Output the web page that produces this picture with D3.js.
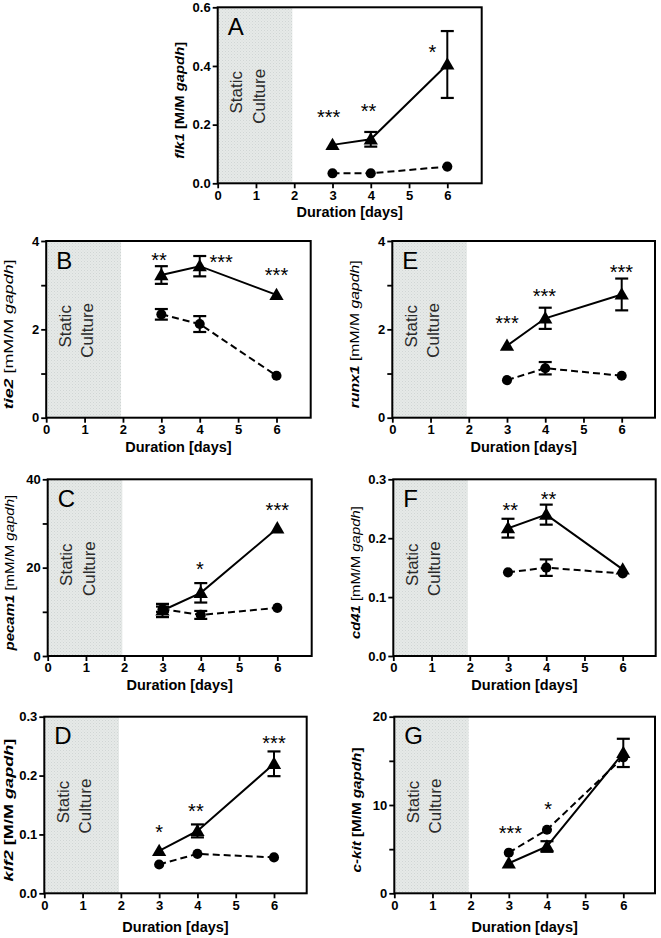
<!DOCTYPE html>
<html><head><meta charset="utf-8">
<script src="https://cdn.jsdelivr.net/npm/d3@7"></script>
<style>
body{margin:0;background:#fff}
svg{display:block}
text{font-family:"Liberation Sans",Arial,Helvetica,sans-serif;fill:#000}
</style>
</head><body>
<svg id="chart" width="661" height="938"></svg>
<script>
// ---------------- DATA ----------------
const days = [3, 4, 6];
const xTickValues = [0, 1, 2, 3, 4, 5, 6];
const xTickLabels = ["0", "1", "2", "3", "4", "5", "6"];
const staticCultureDays = [0, 1.95];
const xTitle = "Duration [days]";

const panelLetters = ["A", "B", "E", "C", "F", "D", "G"];
const geneNames = ["flk1", "tie2", "runx1", "pecam1", "cd41", "klf2", "c-kit"];
const unitNames = ["M/M", "mM/M", "mM/M", "mM/M", "mM/M", "M/M", "M/M"];
const yDomainMax = [0.6, 4, 4, 40, 0.3, 0.3, 20];

const yMajorTicks = [[0, 0.2, 0.4, 0.6], [0, 2, 4], [0, 2, 4], [0, 20, 40], [0, 0.1, 0.2, 0.3], [0, 0.1, 0.2, 0.3], [0, 10, 20]];
const yTickLabels = [["0.0", "0.2", "0.4", "0.6"], ["0", "2", "4"], ["0", "2", "4"], ["0", "20", "40"], ["0.0", "0.1", "0.2", "0.3"], ["0.0", "0.1", "0.2", "0.3"], ["0", "10", "20"]];
const yMinorTicks = [[], [1, 3], [1, 3], [10, 30], [], [], [5, 15]];

// triangle series (solid line)
const triMean = [
  [0.131, 0.150, 0.405],
  [3.23, 3.43, 2.78],
  [1.63, 2.25, 2.79],
  [10.3, 14.3, 28.9],
  [0.217, 0.240, 0.147],
  [0.072, 0.106, 0.220],
  [3.4, 5.3, 15.9]
];
const triErr = [
  [0, 0.025, 0.114],
  [0.20, 0.23, 0],
  [0, 0.24, 0.36],
  [1.5, 2.2, 0],
  [0.016, 0.017, 0],
  [0, 0.011, 0.021],
  [0, 0.6, 1.6]
];
// circle series (dashed line)
const circMean = [
  [0.034, 0.034, 0.057],
  [2.34, 2.12, 0.95],
  [0.85, 1.12, 0.95],
  [10.6, 9.3, 10.9],
  [0.142, 0.150, 0.140],
  [0.049, 0.067, 0.061],
  [4.6, 7.2, 15.4]
];
const circErr = [
  [0, 0, 0],
  [0.12, 0.18, 0],
  [0, 0.14, 0],
  [0.6, 0.9, 0],
  [0, 0.014, 0],
  [0, 0, 0],
  [0, 0, 0]
];
// significance marks: [day, value, label]
const starMarks = [
  [[2.9, 0.239, "***"], [3.94, 0.259, "**"], [5.61, 0.46, "*"]],
  [[2.94, 3.67, "**"], [4.56, 3.61, "***"], [6.0, 3.31, "***"]],
  [[3.0, 2.23, "***"], [3.98, 2.84, "***"], [5.99, 3.38, "***"]],
  [[3.98, 20.6, "*"], [6.0, 34.0, "***"]],
  [[3.06, 0.254, "**"], [4.06, 0.273, "**"]],
  [[3.0, 0.1115, "*"], [3.96, 0.146, "**"], [6.0, 0.2615, "***"]],
  [[3.04, 7.25, "***"], [4.03, 10.0, "*"]]
];

// ---------------- LAYOUT ----------------
const layout = [
  {l: 217.7, x6: 447.3, r: 481.7, t: 7.3, b: 183.3, tl: 117, xt: 34},
  {l: 46.2, x6: 276.5, r: 310.7, t: 241, b: 417.7, tl: 150, xt: 34},
  {l: 392.3, x6: 621.7, r: 655, t: 241, b: 417.7, tl: 148, xt: 34},
  {l: 47.7, x6: 277.3, r: 311.7, t: 479.3, b: 656, tl: 157, xt: 34},
  {l: 393.3, x6: 622.7, r: 655.7, t: 479.3, b: 656, tl: 133, xt: 34},
  {l: 44.3, x6: 274, r: 306.7, t: 716.7, b: 893.3, tl: 143, xt: 39},
  {l: 394.3, x6: 623.3, r: 655, t: 716.7, b: 893.3, tl: 125, xt: 39}
];

const svg = d3.select("#chart");
const defs = svg.append("defs");
const pat = defs.append("pattern").attr("id", "hatch").attr("width", 3).attr("height", 3)
  .attr("patternUnits", "userSpaceOnUse");
pat.append("rect").attr("width", 3).attr("height", 3).attr("fill", "#e6e9e8");
pat.append("rect").attr("width", 1).attr("height", 1).attr("fill", "#d0d6d4");
pat.append("rect").attr("x", 1.5).attr("y", 1.5).attr("width", 1).attr("height", 1).attr("fill", "#d8dddb");

const triSym = d3.symbol().type(d3.symbolTriangle).size(88);
const circSym = d3.symbol().type(d3.symbolCircle).size(80);

layout.forEach((L, i) => {
  const g = svg.append("g");
  const x = d3.scaleLinear().domain([0, 6]).range([L.l, L.x6]);
  const y = d3.scaleLinear().domain([0, yDomainMax[i]]).range([L.b, L.t]);

  // static culture region
  g.append("rect")
    .attr("x", x(staticCultureDays[0])).attr("y", L.t)
    .attr("width", x(staticCultureDays[1]) - x(staticCultureDays[0]))
    .attr("height", L.b - L.t).attr("fill", "url(#hatch)");
  const cy = (L.t + L.b) / 2;
  [["Static", 0.5, -3], ["Culture", 1.08, 1]].forEach(([s, d, off]) => {
    g.append("text").attr("transform", `translate(${x(d)},${cy + off}) rotate(-90)`)
      .attr("text-anchor", "middle").attr("dominant-baseline", "central")
      .attr("font-size", 17).style("fill", "#2a2a2a").text(s);
  });

  // series
  const series = [
    {m: circMean[i], e: circErr[i], sym: circSym, dash: "7,4", dy: 0},
    {m: triMean[i], e: triErr[i], sym: triSym, dash: null, dy: 1}
  ];
  series.forEach(s => {
    const pts = days.map((d, k) => ({d, v: s.m[k], e: s.e[k]}));
    pts.filter(p => p.e > 0).forEach(p => {
      const cx = x(p.d), y1 = y(p.v + p.e), y2 = y(p.v - p.e);
      g.append("line").attr("x1", cx).attr("x2", cx).attr("y1", y1).attr("y2", y2)
        .attr("stroke", "#000").attr("stroke-width", 2);
      [y1, y2].forEach(yy => g.append("line").attr("x1", cx - 6.5).attr("x2", cx + 6.5)
        .attr("y1", yy).attr("y2", yy).attr("stroke", "#000").attr("stroke-width", 2.2));
    });
    g.append("path").datum(pts)
      .attr("d", d3.line().x(p => x(p.d)).y(p => y(p.v)))
      .attr("fill", "none").attr("stroke", "#000").attr("stroke-width", 2)
      .attr("stroke-dasharray", s.dash);
    g.selectAll(null).data(pts).join("path")
      .attr("transform", p => `translate(${x(p.d)},${y(p.v) + s.dy})`)
      .attr("d", s.sym).attr("fill", "#000");
  });

  // frame
  g.append("rect").attr("x", L.l).attr("y", L.t).attr("width", L.r - L.l).attr("height", L.b - L.t)
    .attr("fill", "none").attr("stroke", "#000").attr("stroke-width", 2);

  // axes
  g.append("g").attr("transform", `translate(${L.l},0)`)
    .call(d3.axisLeft(y).tickValues(yMajorTicks[i]).tickSize(5).tickPadding(2)
      .tickFormat((d, k) => yTickLabels[i][k]));
  g.append("g").attr("transform", `translate(${L.l},0)`)
    .call(d3.axisLeft(y).tickValues(yMinorTicks[i]).tickSize(5).tickFormat(""));
  g.append("g").attr("transform", `translate(0,${L.b})`)
    .call(d3.axisBottom(x).tickValues(xTickValues).tickSize(5).tickPadding(2)
      .tickFormat((d, k) => xTickLabels[k]));
  g.selectAll(".domain").remove();
  g.selectAll(".tick line").attr("stroke", "#000").attr("stroke-width", 1.8);
  g.selectAll(".tick text").attr("font-size", 13).attr("font-weight", "bold")
    .attr("font-family", "'Liberation Sans',Arial,sans-serif").style("fill", "#000");

  // x title
  g.append("text").attr("x", (L.l + L.r) / 2).attr("y", L.b + L.xt)
    .attr("text-anchor", "middle").attr("font-size", 14.5).attr("font-weight", "bold").text(xTitle);

  // y title
  const bold = unitNames[i] === "M/M";
  const yt = g.append("text").attr("text-anchor", "middle").attr("dominant-baseline", "central")
    .attr("font-size", 12.5);
  yt.append("tspan").attr("font-weight", "bold").attr("font-style", "italic").text(geneNames[i]);
  yt.append("tspan").attr("font-weight", bold ? "bold" : "normal").text(" [" + unitNames[i] + " ");
  yt.append("tspan").attr("font-weight", bold ? "bold" : "normal").attr("font-style", "italic").text("gapdh");
  yt.append("tspan").attr("font-weight", bold ? "bold" : "normal").text("]");
  const w = yt.node().getBBox().width;
  const k = L.tl / w;
  yt.attr("transform", `translate(${Math.max(L.l - 38, 8)},${cy + 5}) rotate(-90) scale(${k},1)`);

  // panel letter
  g.append("text").attr("x", L.l + 10).attr("y", L.t + 27.5).attr("font-size", 24).text(panelLetters[i]);

  // stars
  starMarks[i].forEach(([d, v, s]) => {
    g.append("text").attr("x", x(d)).attr("y", y(v) + 11)
      .attr("text-anchor", "middle").attr("font-size", 20).text(s);
  });
});
</script>
</body></html>
